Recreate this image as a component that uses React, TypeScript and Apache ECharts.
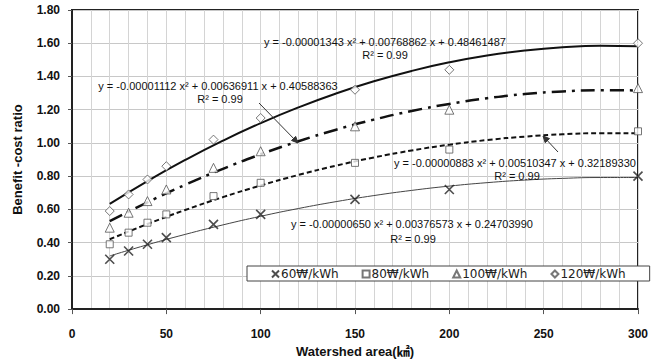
import React, { useEffect, useRef } from "react";
import * as echarts from "echarts";

// Observed points
const areaValues = [20, 30, 40, 50, 75, 100, 150, 200, 300];
const bc60 = [0.30, 0.35, 0.39, 0.43, 0.51, 0.57, 0.66, 0.72, 0.80];
const bc80 = [0.39, 0.46, 0.52, 0.57, 0.68, 0.76, 0.88, 0.96, 1.07];
const bc100 = [0.49, 0.58, 0.65, 0.72, 0.85, 0.95, 1.10, 1.20, 1.33];
const bc120 = [0.59, 0.69, 0.78, 0.86, 1.02, 1.15, 1.32, 1.44, 1.60];

// Trendline curves
const trendX = [20, 40, 60, 80, 100, 120, 140, 160, 180, 200, 220, 240, 260, 280, 300];
const trend60 = [0.3198, 0.3873, 0.4496, 0.5067, 0.5586, 0.6053, 0.6468, 0.6832, 0.7143, 0.7402, 0.7609, 0.7764, 0.7867, 0.7918, 0.7918];
const trend80 = [0.4204, 0.5119, 0.5963, 0.6737, 0.7439, 0.8072, 0.8633, 0.9124, 0.9544, 0.9894, 1.0173, 1.0381, 1.0519, 1.0586, 1.0582];
const trend100 = [0.5288, 0.6429, 0.7480, 0.8442, 0.9316, 1.0100, 1.0796, 1.1403, 1.1920, 1.2349, 1.2689, 1.2940, 1.3101, 1.3174, 1.3158];
const trend120 = [0.6330, 0.7707, 0.8976, 1.0138, 1.1192, 1.2139, 1.2978, 1.3710, 1.4334, 1.4851, 1.5261, 1.5563, 1.5758, 1.5845, 1.5825];

const seriesNames = ["60₩/kWh", "80₩/kWh", "100₩/kWh", "120₩/kWh"];
const equations = [
  "y = -0.00000650 x² + 0.00376573 x + 0.24703990",
  "y = -0.00000883 x² + 0.00510347 x + 0.32189330",
  "y = -0.00001112 x² + 0.00636911 x + 0.40588363",
  "y = -0.00001343 x² + 0.00768862 x + 0.48461487",
];
const rSquared = "R² = 0.99";

const zip = (xs: number[], ys: number[]) => xs.map((x, i) => [x, ys[i]]);

const CROSS = "path://M0,0L10,10M10,0L0,10";
const EQ_FONT = "'Liberation Sans', Arial, sans-serif";

export default function App() {
  const ref = useRef<HTMLDivElement>(null);
  useEffect(() => {
    if (!ref.current) return;
    const chart = echarts.init(ref.current, null, { renderer: "svg" });

    const markerStyle = { color: "#ffffff", borderColor: "#555", borderWidth: 1 };
    const eqText = (text: string, x: number, y: number) => ({
      type: "text",
      x,
      y,
      z: 100,
      style: {
        text,
        fill: "#111",
        font: `11px ${EQ_FONT}`,
        textAlign: "center",
        textVerticalAlign: "middle",
      },
    });
    const trend = (name: string, ys: number[], lineStyle: any) => ({
      name,
      type: "line",
      data: zip(trendX, ys),
      smooth: 0.5,
      showSymbol: false,
      silent: true,
      lineStyle,
      z: 2,
    });

    const option: any = {
      animation: false,
      backgroundColor: "#ffffff",
      grid: {
        left: 72,
        top: 10,
        right: 26,
        bottom: 50,
        show: true,
        borderColor: "#222",
        borderWidth: 2,
        backgroundColor: "transparent",
      },
      xAxis: {
        type: "value",
        min: 0,
        max: 300,
        interval: 50,
        name: "Watershed area(㎢)",
        nameLocation: "middle",
        nameGap: 34,
        nameTextStyle: {
          fontFamily: "'Liberation Sans', 'Noto Sans CJK KR', sans-serif",
          fontWeight: "bold",
          fontSize: 13,
          color: "#111",
        },
        axisLine: { show: true, onZero: false, lineStyle: { color: "#222", width: 2 } },
        axisTick: { show: true, inside: false, length: 5, lineStyle: { color: "#555" } },
        axisLabel: {
          margin: 19,
          fontFamily: "'Liberation Sans', Arial, sans-serif",
          fontWeight: "bold",
          fontSize: 12,
          color: "#111",
        },
        splitLine: { show: true, lineStyle: { color: "#d4d4d4", width: 1 } },
        minorTick: { show: false, splitNumber: 5 },
        minorSplitLine: { show: true, lineStyle: { color: "#d4d4d4", width: 1 } },
      },
      yAxis: {
        type: "value",
        min: 0,
        max: 1.8,
        interval: 0.2,
        name: "Benefit -cost ratio",
        nameLocation: "middle",
        nameGap: 48,
        nameTextStyle: {
          fontFamily: "'Liberation Sans', Arial, sans-serif",
          fontWeight: "bold",
          fontSize: 13,
          color: "#111",
        },
        axisLine: { show: true, onZero: false, lineStyle: { color: "#222", width: 2 } },
        axisTick: { show: true, inside: false, length: 4, lineStyle: { color: "#555" } },
        axisLabel: {
          margin: 12,
          fontFamily: "'Liberation Sans', Arial, sans-serif",
          fontWeight: "bold",
          fontSize: 12,
          color: "#111",
          formatter: (v: number) => v.toFixed(2),
        },
        splitLine: { show: true, lineStyle: { color: "#c8c8c8", width: 1 } },
      },
      legend: {
        data: seriesNames.map((name) => ({ name })),
        left: 247,
        top: 266,
        padding: [2, 24, 1, 24],
        itemGap: 23,
        itemWidth: 7,
        itemHeight: 7,
        backgroundColor: "#fff",
        borderColor: "#444",
        borderWidth: 1,
        textStyle: {
          fontFamily: "'DejaVu Sans', sans-serif",
          fontSize: 12,
          color: "#222",
          padding: [0, 0, 0, -3],
        },
      },
      series: [
        trend("trend60", trend60, { color: "#444", width: 1 }),
        trend("trend80", trend80, { color: "#111", width: 2, type: [5, 3] }),
        trend("trend100", trend100, { color: "#111", width: 2.5, type: [14, 6, 3, 6] }),
        trend("trend120", trend120, { color: "#111", width: 2 }),
        {
          name: seriesNames[0],
          type: "scatter",
          data: zip(areaValues, bc60),
          symbol: CROSS,
          symbolSize: 9,
          itemStyle: { color: "transparent", borderColor: "#222", borderWidth: 1.6 },
          z: 5,
        },
        {
          name: seriesNames[1],
          type: "scatter",
          data: zip(areaValues, bc80),
          symbol: "rect",
          symbolSize: 7,
          itemStyle: markerStyle,
          z: 5,
        },
        {
          name: seriesNames[2],
          type: "scatter",
          data: zip(areaValues, bc100),
          symbol: "triangle",
          symbolSize: 9,
          itemStyle: markerStyle,
          z: 5,
        },
        {
          name: seriesNames[3],
          type: "scatter",
          data: zip(areaValues, bc120),
          symbol: "diamond",
          symbolSize: 9,
          itemStyle: markerStyle,
          z: 5,
        },
      ],
      graphic: [
        eqText(equations[3], 385, 42),
        eqText(rSquared, 385, 55),
        eqText(equations[2], 218, 86),
        eqText(rSquared, 220, 99),
        eqText(equations[1], 515, 163),
        eqText(rSquared, 517, 176),
        eqText(equations[0], 412, 224),
        eqText(rSquared, 413, 239),
        {
          type: "line",
          z: 100,
          shape: { x1: 259, y1: 103, x2: 298, y2: 143 },
          style: { stroke: "#333", lineWidth: 1 },
        },
        {
          type: "polygon",
          z: 100,
          shape: { points: [[295.7, 136.4], [298, 143], [291.5, 140.5]] },
          style: { fill: "#333", stroke: "#333", lineWidth: 1 },
        },
        {
          type: "line",
          z: 100,
          shape: { x1: 558, y1: 152, x2: 543, y2: 136 },
          style: { stroke: "#333", lineWidth: 1 },
        },
        {
          type: "polygon",
          z: 100,
          shape: { points: [[545.2, 142.7], [543, 136], [549.5, 138.6]] },
          style: { fill: "#333", stroke: "#333", lineWidth: 1 },
        },
      ],
    };

    chart.setOption(option);
    return () => chart.dispose();
  }, []);

  return <div ref={ref} style={{ width: 664, height: 363, position: "absolute", left: 0, top: 0 }} />;
}
